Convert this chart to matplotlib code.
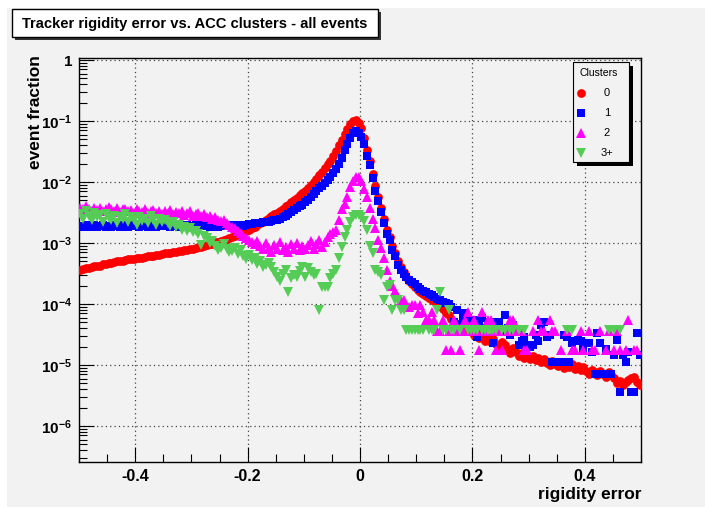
import numpy as np
import matplotlib
matplotlib.use("Agg")
import matplotlib.pyplot as plt
from matplotlib.patches import Rectangle
from matplotlib.lines import Line2D
from matplotlib.ticker import FixedLocator, MultipleLocator, NullFormatter, FuncFormatter
from matplotlib import font_manager

# ---------------- data (log10 of event fraction per bin; nan = empty bin) ----------------
n_bins = 200
x_min, x_max = -0.5, 0.5
nan = np.nan

series_labels = ["0", "1", "2", "3+"]

red_log10 = [
    -3.44, -3.42, -3.41, -3.41, -3.40, -3.38, -3.38, -3.37, -3.35, -3.34,
    -3.33, -3.33, -3.31, -3.30, -3.30, -3.29, -3.28, -3.27, -3.27, -3.26,
    -3.25, -3.24, -3.24, -3.23, -3.22, -3.21, -3.21, -3.20, -3.19, -3.18,
    -3.17, -3.17, -3.16, -3.15, -3.14, -3.13, -3.13, -3.12, -3.11, -3.10,
    -3.09, -3.08, -3.07, -3.06, -3.05, -3.03, -3.02, -3.01, -2.99, -2.98,
    -2.96, -2.95, -2.93, -2.92, -2.90, -2.88, -2.86, -2.84, -2.82, -2.80,
    -2.78, -2.76, -2.73, -2.71, -2.68, -2.65, -2.62, -2.59, -2.56, -2.53,
    -2.50, -2.47, -2.44, -2.40, -2.37, -2.33, -2.30, -2.26, -2.22, -2.18,
    -2.14, -2.10, -2.05, -2.00, -1.95, -1.89, -1.83, -1.77, -1.71, -1.65,
    -1.58, -1.49, -1.40, -1.31, -1.22, -1.13, -1.05, -1.00, -0.99, -1.03,
    -1.11, -1.28, -1.48, -1.65, -1.87, -2.07, -2.24, -2.42, -2.61, -2.79,
    -2.90, -3.05, -3.16, -3.29, -3.40, -3.48, -3.55, -3.62, -3.68, -3.72,
    -3.77, -3.80, -3.84, -3.87, -3.90, -3.93, -3.95, -3.99, -4.03, -4.08,
    -4.15, -4.18, -4.25, -4.30, -4.33, -4.40, -4.38, -4.30, -4.45, -4.42,
    -4.50, -4.47, -4.55, -4.50, -4.60, -4.55, -4.62, -4.58, -4.66, -4.70,
    -4.62, -4.68, -4.75, -4.80, -4.72, -4.78, -4.85, -4.80, -4.88, -4.84,
    -4.90, -4.86, -4.92, -4.88, -4.95, -4.90, -4.96, -5.00, -4.93, -4.98,
    -5.02, -4.97, -5.05, -5.00, -5.04, -4.98, -5.06, -5.02, -5.08, -5.03,
    -5.10, -5.14, -5.08, -5.12, -5.16, -5.10, -5.14, -5.20, -5.12, -5.17,
    -5.22, -5.30, -5.26, -5.32, -5.28, -5.24, -5.22, -5.20, -5.28, -5.33,
]

blue_log10 = [
    -2.72, -2.74, -2.71, -2.73, -2.72, -2.70, -2.74, -2.72, -2.71, -2.73,
    -2.72, -2.74, -2.71, -2.72, -2.73, -2.70, -2.72, -2.74, -2.71, -2.72,
    -2.70, -2.73, -2.72, -2.71, -2.74, -2.72, -2.70, -2.73, -2.72, -2.71,
    -2.72, -2.70, -2.73, -2.71, -2.72, -2.74, -2.71, -2.72, -2.70, -2.73,
    -2.72, -2.71, -2.73, -2.72, -2.70, -2.72, -2.74, -2.71, -2.72, -2.73,
    -2.71, -2.72, -2.70, -2.72, -2.71, -2.73, -2.71, -2.70, -2.72, -2.70,
    -2.69, -2.69, -2.68, -2.68, -2.67, -2.66, -2.65, -2.65, -2.64, -2.63,
    -2.62, -2.60, -2.57, -2.55, -2.52, -2.49, -2.46, -2.43, -2.40, -2.37,
    -2.33, -2.29, -2.25, -2.20, -2.15, -2.10, -2.06, -2.02, -1.97, -1.92,
    -1.86, -1.79, -1.70, -1.61, -1.48, -1.37, -1.28, -1.20, -1.17, -1.19,
    -1.26, -1.38, -1.57, -1.72, -1.94, -2.14, -2.31, -2.49, -2.68, -2.85,
    -2.95, -3.11, -3.22, -3.36, -3.45, -3.50, -3.55, -3.60, -3.64, -3.68,
    -3.72, -3.75, -3.78, -3.80, -3.84, -3.86, -3.88, -3.92, -3.93, -3.96,
    -3.98, -4.00, -4.05, -4.29, -4.10, -4.32, -4.20, -4.15, -4.23, -4.30,
    -4.26, -4.54, -4.35, -4.23, -4.40, -4.29, -4.29, -4.64, -4.35, -4.29,
    -4.45, -4.18, -4.40, -4.50, -4.35, -4.45, -4.67, -4.60, -4.54, -4.67,
    -4.70, -4.67, -4.50, -4.60, -4.34, -4.29, -4.54, -4.50, -4.95, -4.95,
    -4.95, -4.95, -4.50, -4.54, -4.95, -4.64, -4.60, -4.59, -4.60, -4.73,
    -4.64, -4.64, -4.78, -5.14, -4.48, -4.64, -5.14, -4.73, -5.14, -5.14,
    -4.84, -4.59, -5.44, -4.84, -4.95, -4.78, -5.44, -5.44, -4.48, -4.84,
]

magenta_log10 = [
    -2.42, -2.45, -2.40, -2.44, -2.47, -2.43, -2.46, -2.42, -2.48, -2.44,
    -2.41, -2.45, -2.47, -2.43, -2.49, -2.45, -2.44, -2.48, -2.46, -2.50,
    -2.45, -2.47, -2.49, -2.44, -2.50, -2.48, -2.46, -2.51, -2.47, -2.52,
    -2.48, -2.50, -2.46, -2.53, -2.49, -2.51, -2.47, -2.54, -2.50, -2.48,
    -2.55, -2.52, -2.50, -2.55, -2.53, -2.58, -2.55, -2.60, -2.58, -2.62,
    -2.64, -2.62, -2.68, -2.70, -2.73, -2.75, -2.80, -2.84, -2.88, -2.92,
    -2.95, -2.98, -3.02, -2.97, -3.05, -3.10, -3.00, -3.08, -3.14, -3.03,
    -3.10, -2.98, -3.12, -3.06, -3.15, -3.02, -3.09, -3.00, -3.12, -3.05,
    -3.10, -3.04, -2.97, -3.10, -3.02, -2.95, -3.06, -2.98, -2.90, -2.85,
    -2.82, -2.78, -2.62, -2.45, -2.36, -2.25, -2.08, -1.98, -1.92, -1.92,
    -1.98, -2.12, -2.25, -2.42, -2.60, -2.76, -2.95, -3.08, -3.25, -3.45,
    -3.62, -3.70, -3.78, -3.88, -3.93, -3.93, -4.02, -4.05, -4.02, -4.02,
    -4.15, -4.02, -4.13, -4.26, -4.26, -4.13, -4.26, -4.45, -4.45, -4.26,
    -4.75, -4.45, -4.75, -4.26, -4.45, -4.75, -4.45, -4.26, -4.13, -4.45,
    -4.26, -4.45, -4.75, -4.13, -4.45, -4.26, -4.26, -4.45, -4.75, -4.45,
    -4.75, nan, -4.45, -4.26, -4.26, -4.45, nan, -4.45, -4.75, -4.75,
    nan, -4.45, nan, -4.26, -4.45, -4.45, nan, -4.26, -4.45, -4.45,
    nan, -4.75, nan, -4.45, nan, -4.75, -4.75, nan, -4.45, -4.75,
    nan, -4.45, -4.75, -4.75, nan, -4.45, nan, -4.75, -4.45, nan,
    -4.75, -4.45, -4.75, nan, -4.75, -4.26, nan, -4.75, -4.75, nan,
]

green_log10 = [
    -2.52, -2.60, -2.48, -2.56, -2.63, -2.50, -2.58, -2.54, -2.66, -2.52,
    -2.59, -2.62, -2.55, -2.68, -2.57, -2.60, -2.53, -2.65, -2.58, -2.62,
    -2.70, -2.58, -2.64, -2.60, -2.67, -2.56, -2.62, -2.70, -2.61, -2.66,
    -2.63, -2.68, -2.72, -2.65, -2.74, -2.70, -2.78, -2.73, -2.80, -2.76,
    -2.82, -2.80, -2.85, -3.03, -2.88, -2.92, -3.00, -2.96, -3.05, -3.12,
    -3.08, -3.02, -3.10, -3.15, -3.13, -3.08, -3.18, -3.12, -3.22, -3.26,
    -3.20, -3.28, -3.25, -3.35, -3.30, -3.40, -3.36, -3.33, -3.39, -3.48,
    -3.55, -3.63, -3.50, -3.44, -3.80, -3.58, -3.52, -3.55, -3.46, -3.39,
    -3.55, -3.41, -3.47, -3.52, -3.50, -4.10, -3.72, -3.72, -3.72, -3.58,
    -3.50, -3.44, -3.25, -3.06, -2.90, -2.78, -2.65, -2.58, -2.54, -2.54,
    -2.57, -2.64, -2.78, -3.05, -3.17, -3.44, -3.48, -3.52, -3.93, -3.72,
    -3.69, -4.10, -3.93, -3.93, -4.10, -4.10, -4.43, -4.43, -4.43, -4.43,
    -4.43, -4.43, -4.43, nan, -4.43, -4.43, -4.43, -4.10, -3.80, -4.43,
    -4.43, -4.10, -4.43, -4.43, nan, -4.43, nan, nan, -4.43, -4.43,
    -4.43, -4.43, nan, -4.43, -4.43, -4.43, -4.43, -4.43, -4.43, nan,
    -4.43, -4.43, nan, -4.43, -4.43, nan, -4.43, nan, -4.43, nan,
    nan, nan, nan, nan, nan, nan, nan, nan, nan, nan,
    nan, nan, nan, -4.43, nan, -4.43, nan, nan, nan, nan,
    nan, nan, nan, nan, nan, nan, nan, nan, -4.43, nan,
    -4.43, nan, -4.43, nan, nan, nan, nan, nan, nan, nan,
]

x_ticks = [-0.4, -0.2, 0.0, 0.2, 0.4]
x_tick_labels = ["-0.4", "-0.2", "0", "0.2", "0.4"]
y_decades = [-6, -5, -4, -3, -2, -1, 0]

# ---------------- style ----------------
W, H = 705, 507
bg = "#f2f2f2"
colors = ["#ff0000", "#0000ff", "#ff00ff", "#55cc55"]
markers = ["o", "s", "^", "v"]
msizes = [6.3, 5.3, 6.8, 6.8]

names = {f.name for f in font_manager.fontManager.ttflist}
base_font = "Liberation Sans" if "Liberation Sans" in names else "DejaVu Sans"

plt.rcParams["font.family"] = [base_font, "DejaVu Sans"]
plt.rcParams["mathtext.fontset"] = "custom"
plt.rcParams["mathtext.rm"] = base_font + ":bold"
plt.rcParams["mathtext.it"] = base_font + ":bold"
plt.rcParams["mathtext.bf"] = base_font + ":bold"

fig = plt.figure(figsize=(W / 100, H / 100), dpi=100)
fig.patch.set_facecolor("white")
fig.patches.append(Rectangle((7 / W, 0), 1, 1 - 8 / H, transform=fig.transFigure,
                             facecolor=bg, edgecolor="none", zorder=-10))

def fx(px):
    return px / W

def fy(py):
    return 1 - py / H

left, right, top, bottom = 79, 641, 58, 462
ax = fig.add_axes([fx(left), fy(bottom), (right - left) / W, (bottom - top) / H])
ax.set_facecolor(bg)

edges = np.linspace(x_min, x_max, n_bins + 1)
centers = 0.5 * (edges[:-1] + edges[1:])
all_series = [red_log10, blue_log10, magenta_log10, green_log10]
for vals, c, m, s in zip(all_series, colors, markers, msizes):
    v = np.power(10.0, np.array(vals, dtype=float))
    ax.plot(centers, v, linestyle="none", marker=m, color=c, markersize=s,
            markeredgewidth=0, zorder=3)

ax.set_yscale("log")
ax.set_xlim(x_min, x_max)
ax.set_ylim(10 ** -6.59, 10 ** 0.033)

ax.xaxis.set_major_locator(FixedLocator(x_ticks))
ax.set_xticklabels(x_tick_labels)
ax.xaxis.set_minor_locator(MultipleLocator(0.05))
ax.yaxis.set_major_locator(FixedLocator([10.0 ** e for e in y_decades]))
minor_y = [k * 10.0 ** e for e in range(-7, 1) for k in range(2, 10)]
minor_y = [v for v in minor_y if 10 ** -6.59 < v < 10 ** 0.033]
ax.yaxis.set_minor_locator(FixedLocator(minor_y))
ax.yaxis.set_minor_formatter(NullFormatter())

def yfmt(v, pos):
    e = int(round(np.log10(v)))
    if e == 0:
        return "1"
    return r"$10^{%d}$" % e
ax.yaxis.set_major_formatter(FuncFormatter(yfmt))

ax.tick_params(which="both", direction="in", top=False, right=False, width=0.8)
ax.tick_params(which="major", length=11)
ax.tick_params(which="minor", length=5.5)
ax.tick_params(axis="x", which="major", pad=5, labelsize=11.5)
ax.tick_params(axis="y", which="major", pad=5, labelsize=11)
for lab in ax.get_xticklabels() + ax.get_yticklabels():
    lab.set_fontweight("bold")

ax.grid(True, which="major", linestyle=(0, (1, 2.5)), color="#444444", linewidth=0.9)
for sp in ax.spines.values():
    sp.set_linewidth(1.0)

# axis titles
fig.text(fx(641), fy(495), "rigidity error", ha="right", va="center",
         fontsize=12.5, fontweight="bold")
fig.text(fx(36), fy(55), "event fraction", ha="center", va="top", rotation=90,
         fontsize=12.5, fontweight="bold")

# title box with shadow
tb_x0, tb_y0, tb_x1, tb_y1 = 12, 9, 378, 37
fig.patches.append(Rectangle((fx(tb_x0 + 3), fy(tb_y1 + 3)), (tb_x1 - tb_x0) / W, (tb_y1 - tb_y0) / H,
                             transform=fig.transFigure, facecolor="#333333", edgecolor="none", zorder=1))
fig.patches.append(Rectangle((fx(tb_x0), fy(tb_y1)), (tb_x1 - tb_x0) / W, (tb_y1 - tb_y0) / H,
                             transform=fig.transFigure, facecolor="white", edgecolor="black",
                             linewidth=1.0, zorder=2))
fig.text(fx((tb_x0 + tb_x1) / 2), fy((tb_y0 + tb_y1) / 2 + 1),
         "Tracker rigidity error vs. ACC clusters - all events",
         ha="center", va="center", fontsize=10.6, fontweight="bold", zorder=3)

# legend box with shadow
lb_x0, lb_y0, lb_x1, lb_y1 = 573, 62, 629, 162
fig.patches.append(Rectangle((fx(lb_x0 + 4), fy(lb_y1 + 4)), (lb_x1 - lb_x0) / W, (lb_y1 - lb_y0) / H,
                             transform=fig.transFigure, facecolor="black", edgecolor="none", zorder=5))
fig.patches.append(Rectangle((fx(lb_x0), fy(lb_y1)), (lb_x1 - lb_x0) / W, (lb_y1 - lb_y0) / H,
                             transform=fig.transFigure, facecolor=bg, edgecolor="black",
                             linewidth=0.8, zorder=6))
fig.text(fx(599), fy(73), "Clusters", ha="center", va="center", fontsize=7.5, zorder=7)
row_y = [93, 113, 133, 153]
for lab, c, m, s, ry in zip(series_labels, colors, markers, msizes, row_y):
    fig.add_artist(Line2D([fx(581)], [fy(ry)], transform=fig.transFigure, linestyle="none",
                          marker=m, color=c, markersize=s, markeredgewidth=0, zorder=7))
    fig.text(fx(607), fy(ry), lab, ha="center", va="center", fontsize=8, zorder=7)

fig.savefig("out.png", dpi=100, facecolor=fig.get_facecolor())
